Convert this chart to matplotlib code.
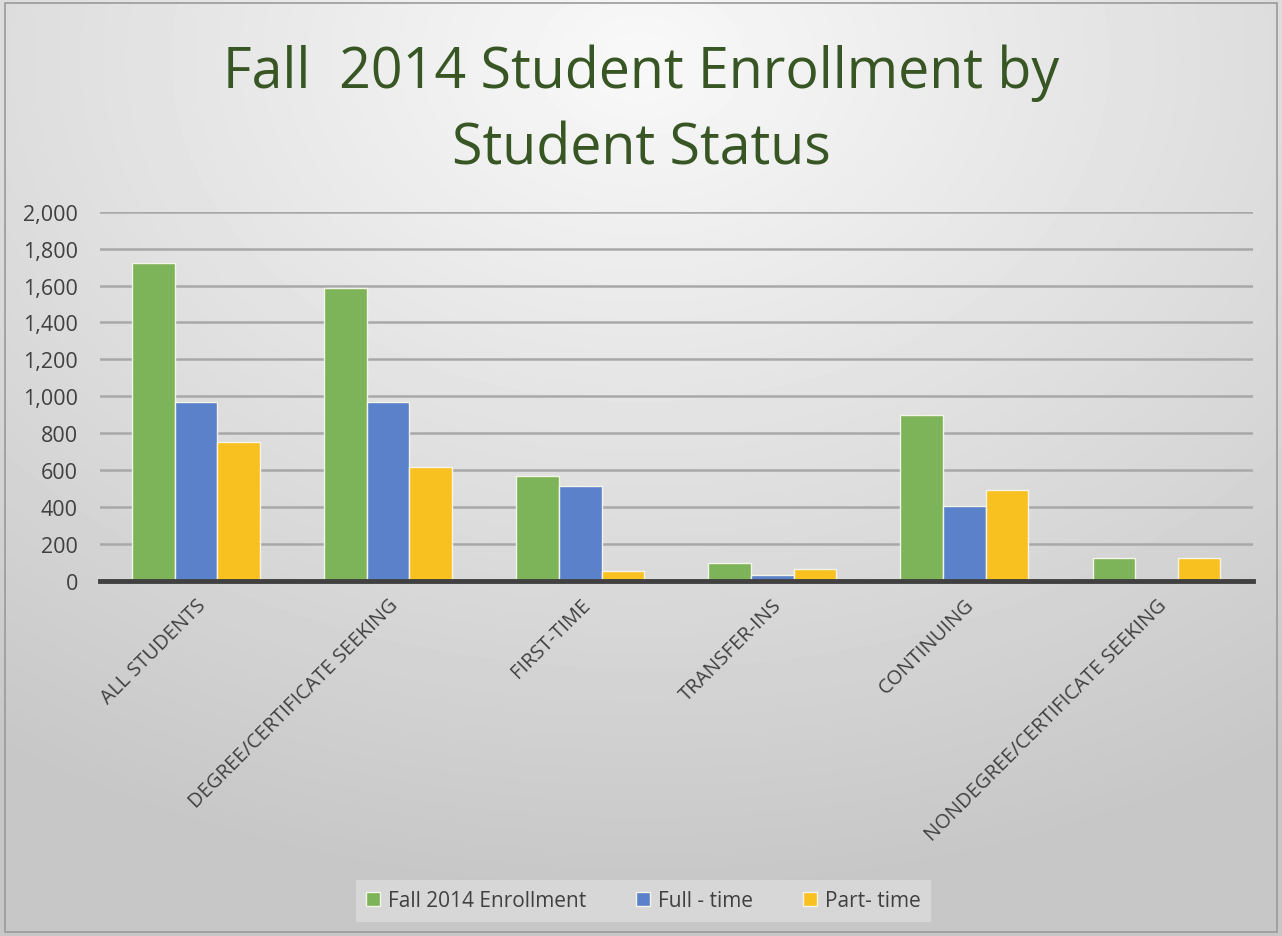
import matplotlib.pyplot as plt
import numpy as np
from matplotlib.patches import Rectangle

# 数据
categories = ['ALL STUDENTS', 'DEGREE/CERTIFICATE SEEKING', 'FIRST-TIME',
              'TRANSFER-INS', 'CONTINUING', 'NONDEGREE/CERTIFICATE SEEKING']
enrollment = [1724, 1588, 568, 96, 900, 126]
full_time = [970, 970, 512, 34, 405, 0]
part_time = [754, 618, 56, 62, 495, 126]
series_names = ['Fall 2014 Enrollment', 'Full - time', 'Part- time']
colors = ['#7db359', '#5a81c9', '#f9c11f']

plt.rcParams['font.family'] = ['Open Sans', 'DejaVu Sans']

fig = plt.figure(figsize=(12.82, 9.37), dpi=100)

# 背景渐变
bg = fig.add_axes([0, 0, 1, 1], zorder=-10)
yy, xx = np.mgrid[0:937, 0:1282]
r = np.sqrt(((xx - 640) / 1282.0) ** 2 + ((yy - 60) / 937.0) ** 2)
shade = np.clip(0.975 - 0.22 * r, 0.78, 0.98)
bg.imshow(shade, cmap='gray', vmin=0, vmax=1, aspect='auto', extent=[0, 1, 0, 1])
bg.add_patch(Rectangle((0.004, 0.004), 0.992, 0.992, fill=False,
                       edgecolor='#9a9a9a', lw=1.2))
bg.set_axis_off()

ax = fig.add_axes([0.078, 0.379, 0.899, 0.394])
ax.patch.set_alpha(0)

x = np.arange(len(categories))
w = 0.222
for i, (vals, name, c) in enumerate(zip([enrollment, full_time, part_time], series_names, colors)):
    ax.bar(x + (i - 1) * w, vals, w, color=c, edgecolor='#f4f4e8', linewidth=1.0,
           label=name, zorder=3)

ax.set_xlim(-0.5, len(categories) - 0.5)
ax.set_ylim(0, 2000)
ax.set_yticks(np.arange(0, 2001, 200))
ax.set_yticklabels([f'{v:,}' for v in range(0, 2001, 200)], fontsize=15.5, color='#404040')
ax.yaxis.grid(True, color='#a8a8a8', lw=1.8, zorder=0)
ax.set_axisbelow(True)
for s in ['top', 'right', 'left']:
    ax.spines[s].set_visible(False)
ax.spines['bottom'].set_color('#404040')
ax.spines['bottom'].set_linewidth(3.5)
ax.spines['bottom'].set_zorder(5)
ax.tick_params(axis='y', length=0, pad=16)
ax.tick_params(axis='x', length=0, pad=10)

ax.set_xticks(x)
ax.set_xticklabels(categories, rotation=45, ha='right', rotation_mode='anchor',
                   fontsize=14.5, color='#404040')

fig.text(0.5, 0.881, 'Fall  2014 Student Enrollment by\nStudent Status', ha='center',
         va='center', fontsize=40, color='#375623', linespacing=1.45)

leg = fig.legend(loc='center', bbox_to_anchor=(0.502, 0.0375), ncol=3, frameon=True,
                 fontsize=15, handlelength=0.65, handleheight=0.65, handletextpad=0.4,
                 columnspacing=2.4, borderpad=0.5, fancybox=False)
leg.get_frame().set_facecolor('#dcdcdc')
leg.get_frame().set_edgecolor('none')
for t in leg.get_texts():
    t.set_color('#404040')

fig.savefig('out.png', dpi=100)
